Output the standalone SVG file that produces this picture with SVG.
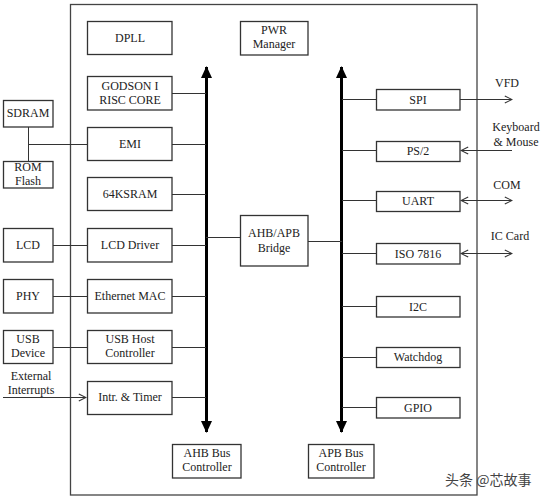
<svg xmlns="http://www.w3.org/2000/svg" width="544" height="501" viewBox="0 0 544 501">
<defs>
<style>
.box{fill:#fff;stroke:#333;stroke-width:1.3}
.outer{fill:none;stroke:#444;stroke-width:1.3}
.ln{fill:none;stroke:#333;stroke-width:1}
.bus{fill:none;stroke:#000;stroke-width:3}
.t text{font-size:12px;fill:#222;text-anchor:middle}
.wm{font-family:'Noto Sans CJK SC',sans-serif;font-size:14px;fill:#444}
</style>
<marker id="open" viewBox="0 0 10 10" refX="9" refY="5" markerWidth="9" markerHeight="9" markerUnits="userSpaceOnUse" orient="auto-start-reverse">
<path d="M1,1 L9,5 L1,9" fill="none" stroke="#333" stroke-width="1.2"/>
</marker>
<marker id="solid" viewBox="0 0 12 12" refX="11" refY="6" markerWidth="12" markerHeight="12" markerUnits="userSpaceOnUse" orient="auto-start-reverse">
<path d="M0,0.5 L12,6 L0,11.5 Z" fill="#000"/>
</marker>
</defs>
<rect id="chip" class="outer" x="70.5" y="4.5" width="406.5" height="490.5"/>
<g id="connectors">
<line class="bus" x1="206.5" y1="67" x2="206.5" y2="432" marker-start="url(#solid)" marker-end="url(#solid)"/>
<line class="bus" x1="341.5" y1="67" x2="341.5" y2="432" marker-start="url(#solid)" marker-end="url(#solid)"/>
<path class="ln" d="M172,93.5H206 M172,194.5H206 M172,245.5H206 M172,296.5H206 M172,347.5H206 M172,397.5H206 M172,144.5H206"/>
<path class="ln" d="M28.5,127V161 M28,144.5H87"/>
<path class="ln" d="M53,245.5H87 M53,296.5H87 M53,347.5H87"/>
<line class="ln" x1="3" y1="397.5" x2="86" y2="397.5" marker-end="url(#open)"/>
<path class="ln" d="M206,237.5H240 M308,241.5H342"/>
<path class="ln" d="M342,99.5H376 M342,150.5H376 M342,200.5H376 M342,253.5H376 M342,306.5H376 M342,357.5H376 M342,407.5H376"/>
<line class="ln" x1="460" y1="99.5" x2="512" y2="99.5" marker-end="url(#open)"/>
<line class="ln" x1="512" y1="150.5" x2="461" y2="150.5" marker-end="url(#open)"/>
<line class="ln" x1="461" y1="200.5" x2="512" y2="200.5" marker-start="url(#open)" marker-end="url(#open)"/>
<line class="ln" x1="461" y1="253.5" x2="512" y2="253.5" marker-start="url(#open)" marker-end="url(#open)"/>
</g>
<g class="t" font-family="'Liberation Serif', 'DejaVu Serif', serif">
<g id="dpll"><rect class="box" x="87.5" y="21.5" width="84.5" height="33"/><text x="130" y="42">DPLL</text></g>
<g id="godson"><rect class="box" x="87.5" y="76.5" width="84.5" height="33.5"/><text x="130" y="90">GODSON I</text><text x="130" y="104">RISC CORE</text></g>
<g id="emi"><rect class="box" x="87.5" y="127.5" width="84.5" height="33"/><text x="130" y="148">EMI</text></g>
<g id="sram"><rect class="box" x="87.5" y="177.5" width="84.5" height="33"/><text x="130" y="198">64KSRAM</text></g>
<g id="lcddrv"><rect class="box" x="87.5" y="228.5" width="84.5" height="33.5"/><text x="130" y="249">LCD Driver</text></g>
<g id="mac"><rect class="box" x="87.5" y="279.5" width="84.5" height="33.5"/><text x="130" y="300">Ethernet MAC</text></g>
<g id="usbhost"><rect class="box" x="87.5" y="330.5" width="84.5" height="33"/><text x="130" y="343">USB Host</text><text x="130" y="357">Controller</text></g>
<g id="intr"><rect class="box" x="87.5" y="381.5" width="84.5" height="33"/><text x="130" y="401">Intr. &amp; Timer</text></g>
<g id="sdram"><rect class="box" x="3.5" y="100.5" width="49.5" height="26.5"/><text x="28" y="117">SDRAM</text></g>
<g id="rom"><rect class="box" x="3.5" y="161.5" width="49.5" height="26.5"/><text x="28" y="171">ROM</text><text x="28" y="185">Flash</text></g>
<g id="lcd"><rect class="box" x="3.5" y="228.5" width="49.5" height="33.5"/><text x="28" y="249">LCD</text></g>
<g id="phy"><rect class="box" x="3.5" y="279.5" width="49.5" height="33.5"/><text x="28" y="300">PHY</text></g>
<g id="usbdev"><rect class="box" x="3.5" y="330.5" width="49.5" height="33"/><text x="28" y="343">USB</text><text x="28" y="357">Device</text></g>
<g id="extint"><text x="31" y="380">External</text><text x="31" y="394">Interrupts</text></g>
<g id="pwr"><rect class="box" x="240.5" y="21.5" width="67.5" height="33.5"/><text x="274" y="34">PWR</text><text x="274" y="48">Manager</text></g>
<g id="bridge"><rect class="box" x="240.5" y="215.5" width="67.5" height="50.5"/><text x="274" y="237">AHB/APB</text><text x="274" y="252">Bridge</text></g>
<g id="ahbctl"><rect class="box" x="172.5" y="444.5" width="68.5" height="33.5"/><text x="207" y="457">AHB Bus</text><text x="207" y="471">Controller</text></g>
<g id="apbctl"><rect class="box" x="308.5" y="444.5" width="65.5" height="33.5"/><text x="341" y="457">APB Bus</text><text x="341" y="471">Controller</text></g>
<g id="spi"><rect class="box" x="376.5" y="89.5" width="83.5" height="20.5"/><text x="418" y="104">SPI</text></g>
<g id="ps2"><rect class="box" x="376.5" y="141.5" width="83.5" height="20"/><text x="418" y="155">PS/2</text></g>
<g id="uart"><rect class="box" x="376.5" y="191.5" width="83.5" height="20"/><text x="418" y="205">UART</text></g>
<g id="iso"><rect class="box" x="376.5" y="243.5" width="83.5" height="20.5"/><text x="418" y="258">ISO 7816</text></g>
<g id="i2c"><rect class="box" x="376.5" y="296.5" width="83.5" height="20.5"/><text x="418" y="311">I2C</text></g>
<g id="wdog"><rect class="box" x="376.5" y="347.5" width="83.5" height="20"/><text x="418" y="361">Watchdog</text></g>
<g id="gpio"><rect class="box" x="376.5" y="397.5" width="83.5" height="20.5"/><text x="418" y="412">GPIO</text></g>
<g id="vfd"><text x="507" y="87">VFD</text></g>
<g id="kbd"><text x="516" y="131">Keyboard</text><text x="516" y="146">&amp; Mouse</text></g>
<g id="com"><text x="507" y="189">COM</text></g>
<g id="iccard"><text x="510" y="240">IC Card</text></g>
</g>
<text class="wm" x="445" y="485">头条 @芯故事</text>
</svg>
